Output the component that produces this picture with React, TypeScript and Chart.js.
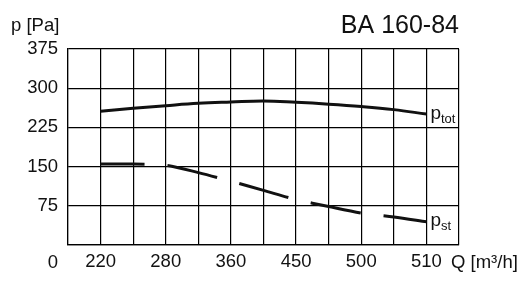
import React, { useEffect, useRef } from "react";
import { Chart, registerables } from "chart.js";

Chart.register(...registerables);

const qLabels = ["220", "280", "360", "450", "500", "510"];
const qLabelPos = [1, 3, 5, 7, 9, 11];
const gridPos = [1, 2, 3, 4, 5, 6, 7, 8, 9, 10, 11];
const pTot = [256, 261.5, 266.5, 271, 273.5, 275.5, 273, 269.5, 265, 259, 250.5];
const pSt = [155, 155, 152.5, 138.5, 122, 104.5, 87, 73.5, 61, 53.5, 44.5];
const yMax = 375;
const yStep = 75;
const titleText = "BA 160-84";
const yTitle = "p [Pa]";
const xTitle = "Q [m³/h]";

const FONT = "'Liberation Sans', Arial, Helvetica, sans-serif";
const INK = "#111";

const textPlugin = {
  id: "texts",
  afterDraw(chart: any) {
    const { ctx, scales } = chart;
    const xs = scales.x;
    const ys = scales.y;
    ctx.save();
    ctx.fillStyle = INK;
    ctx.font = `18.5px ${FONT}`;
    ctx.textBaseline = "alphabetic";
    ctx.textAlign = "left";
    ctx.fillText(yTitle, 11, 31);
    ctx.font = `25px ${FONT}`;
    ctx.textAlign = "right";
    ctx.fillText(titleText, xs.right, 33);
    // y zero label, placed on the x label row
    ctx.font = `18.5px ${FONT}`;
    ctx.textAlign = "right";
    ctx.fillText("0", ys.right - 10, 268);
    ctx.textAlign = "left";
    ctx.fillText(xTitle, 451, 268);
    // curve labels
    const drawSub = (main: string, sub: string, v: number) => {
      const x = xs.getPixelForValue(gridPos[gridPos.length - 1]) + 4;
      const y = ys.getPixelForValue(v);
      ctx.font = `19px ${FONT}`;
      ctx.textAlign = "left";
      ctx.fillText(main, x, y + 4.5);
      const w = ctx.measureText(main).width;
      ctx.font = `13px ${FONT}`;
      ctx.fillText(sub, x + w, y + 8.5);
    };
    drawSub("p", "tot", pTot[pTot.length - 1]);
    drawSub("p", "st", pSt[pSt.length - 1]);
    ctx.restore();
  },
};

export default function App() {
  const ref = useRef<HTMLCanvasElement>(null);
  useEffect(() => {
    if (!ref.current) return;
    const chart = new Chart(ref.current, {
      type: "line",
      data: {
        datasets: [
          {
            label: "ptot",
            data: gridPos.map((x, i) => ({ x, y: pTot[i] })),
            borderColor: INK,
            borderWidth: 3,
            pointRadius: 0,
            tension: 0.4,
            fill: false,
          },
          {
            label: "pst",
            data: gridPos.map((x, i) => ({ x, y: pSt[i] })),
            borderColor: INK,
            borderWidth: 3,
            pointRadius: 0,
            tension: 0.3,
            borderDash: [51, 23],
            borderDashOffset: 7,
            fill: false,
          },
        ],
      },
      options: {
        animation: false,
        responsive: false,
        maintainAspectRatio: false,
        layout: { padding: { left: 0, right: 72, top: 49, bottom: 0 } },
        plugins: { legend: { display: false }, tooltip: { enabled: false }, title: { display: false } },
        scales: {
          x: {
            type: "linear",
            min: 0,
            max: 12,
            afterFit: (s: any) => {
              s.height = 42;
            },
            grid: { color: "#000", lineWidth: 1.2, drawTicks: false },
            border: { color: "#000", width: 1.2 },
            ticks: {
              stepSize: 1,
              autoSkip: false,
              maxRotation: 0,
              padding: 6,
              color: INK,
              font: { family: FONT, size: 18.5 },
              callback: (v: any) => {
                const i = qLabelPos.indexOf(Number(v));
                return i >= 0 ? qLabels[i] : "";
              },
            },
          },
          y: {
            type: "linear",
            min: 0,
            max: yMax,
            afterFit: (s: any) => {
              s.width = 68;
            },
            grid: { color: "#000", lineWidth: 1.2, drawTicks: false },
            border: { color: "#000", width: 1.2 },
            ticks: {
              stepSize: yStep,
              padding: 10,
              color: INK,
              font: { family: FONT, size: 18.5 },
              callback: (v: any) => (Number(v) === 0 ? "" : String(v)),
            },
          },
        },
      },
      plugins: [textPlugin],
    });
    return () => chart.destroy();
  }, []);
  return (
    <div style={{ position: "fixed", left: 0, top: 0, width: 531, height: 287, background: "#fff" }}>
      <canvas ref={ref} width={531} height={287} style={{ width: 531, height: 287 }} />
    </div>
  );
}
